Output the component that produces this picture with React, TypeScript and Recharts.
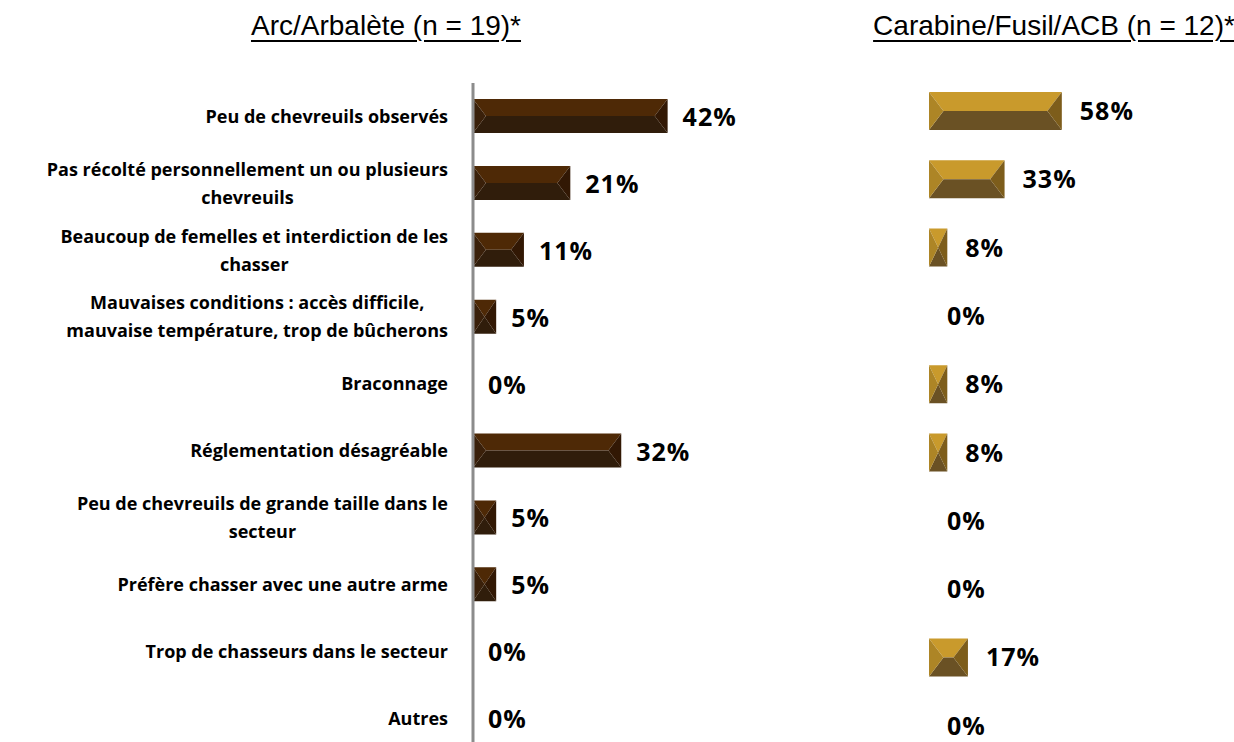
import React from 'react'
import { BarChart, Bar, XAxis, YAxis, LabelList } from 'recharts'

// catégories (\n = retour à la ligne)
const categories = [
  'Peu de chevreuils observés',
  'Pas récolté personnellement un ou plusieurs\nchevreuils',
  'Beaucoup de femelles et interdiction de les\nchasser',
  'Mauvaises conditions : accès difficile,\nmauvaise température, trop de bûcherons',
  'Braconnage',
  'Réglementation désagréable',
  'Peu de chevreuils de grande taille dans le\nsecteur',
  'Préfère chasser avec une autre arme',
  'Trop de chasseurs dans le secteur',
  'Autres',
]
const arcValues = [42, 21, 11, 5, 0, 32, 5, 5, 0, 0]
const carabineValues = [58, 33, 8, 0, 8, 8, 0, 0, 17, 0]

const arcTitle = 'Arc/Arbalète (n = 19)*'
const carabineTitle = 'Carabine/Fusil/ACB (n = 12)*'

const data = categories.map((label, i) => ({
  label,
  arc: arcValues[i],
  carabine: carabineValues[i],
}))

const LABEL_FONT = "'Open Sans', 'Noto Sans', sans-serif"
const LABEL_SIZE = 18
const VALUE_FONT = "'Open Sans', 'Noto Sans', sans-serif"

let ctx: CanvasRenderingContext2D | null = null
function measure(text: string) {
  if (!ctx) ctx = document.createElement('canvas').getContext('2d')
  if (!ctx) return text.length * 10
  ctx.font = `bold ${LABEL_SIZE}px ${LABEL_FONT}`
  return ctx.measureText(text).width
}

function CategoryTick(props: any) {
  const { y, payload } = props
  const lines: string[] = String(payload.value).split('\n')
  const right = 448
  const maxW = Math.max(...lines.map(measure))
  const cx = right - maxW / 2
  const lh = 28
  const y0 = y - ((lines.length - 1) * lh) / 2
  return (
    <text
      textAnchor="middle"
      fontFamily={LABEL_FONT}
      fontWeight="bold"
      fontSize={LABEL_SIZE}
      fill="#000"
    >
      {lines.map((l, i) => (
        <tspan key={i} x={cx} y={y0 + i * lh} dy="0.35em">
          {l}
        </tspan>
      ))}
    </text>
  )
}

type Bevel = { top: string; bottom: string; left: string; right: string }

const arcColors: Bevel = { top: '#4e2906', bottom: '#301d0b', left: '#3a200a', right: '#321804' }
const carabineColors: Bevel = { top: '#c99a2c', bottom: '#6a5124', left: '#ad8526', right: '#7d5d1b' }

function makeBevelBar(c: Bevel) {
  return (props: any) => {
    const { x, y, width: w, height: h } = props
    if (!w || w <= 0) return <g />
    const b = Math.min(h * 0.38, w / 2)
    const m = y + h / 2
    const pts = (arr: number[][]) => arr.map((p) => p.join(',')).join(' ')
    return (
      <g>
        <polygon points={pts([[x, y], [x + w, y], [x + w - b, m], [x + b, m]])} fill={c.top} />
        <polygon points={pts([[x, y + h], [x + w, y + h], [x + w - b, m], [x + b, m]])} fill={c.bottom} />
        <polygon points={pts([[x, y], [x + b, m], [x, y + h]])} fill={c.left} />
        <polygon points={pts([[x + w, y], [x + w - b, m], [x + w, y + h]])} fill={c.right} />
      </g>
    )
  }
}

const valueLabel = (offset: number, shiftY: number) => (props: any) => {
  const { x, y, width, height, value } = props
  return (
    <text
      x={x + width + offset}
      y={y + height / 2 + shiftY}
      dy="0.36em"
      fontFamily={VALUE_FONT}
      fontWeight="bold"
      fontSize={25}
      letterSpacing={1}
      fill="#000"
    >
      {value}%
    </text>
  )
}

const titleStyle: React.CSSProperties = {
  position: 'absolute',
  top: 10,
  fontFamily: "'Liberation Sans Narrow', 'Arial Narrow', 'Liberation Sans', sans-serif",
  fontSize: 28,
  color: '#000',
  textDecoration: 'underline',
  textDecorationThickness: 2,
  textUnderlineOffset: 5,
  whiteSpace: 'nowrap',
  transform: 'translateX(-50%)',
}

export default function App() {
  return (
    <div
      style={{
        position: 'absolute',
        left: 0,
        top: 0,
        width: 1234,
        height: 742,
        overflow: 'hidden',
        background: '#fff',
      }}
    >
      <div style={{ ...titleStyle, left: 386 }}>{arcTitle}</div>
      <div style={{ ...titleStyle, left: 1054 }}>{carabineTitle}</div>

      {/* Arc / Arbalète */}
      <div style={{ position: 'absolute', left: 0, top: 0 }}>
        <BarChart
          width={880}
          height={752}
          data={data}
          layout="vertical"
          margin={{ top: 83, right: 129, bottom: 0, left: 0 }}
        >
          <XAxis type="number" domain={[0, 60]} hide />
          <YAxis
            type="category"
            dataKey="label"
            width={473}
            axisLine={{ stroke: '#8c8c8c', strokeWidth: 3 }}
            tickLine={false}
            tick={<CategoryTick />}
            interval={0}
          />
          <Bar
            dataKey="arc"
            barSize={34}
            isAnimationActive={false}
            shape={makeBevelBar(arcColors)}
          >
            <LabelList dataKey="arc" content={valueLabel(15, 1)} />
          </Bar>
        </BarChart>
      </div>

      {/* Carabine / Fusil / ACB */}
      <div style={{ position: 'absolute', left: 880, top: 0 }}>
        <BarChart
          width={354}
          height={760}
          data={data}
          layout="vertical"
          margin={{ top: 77, right: 76, bottom: 0, left: 49 }}
        >
          <XAxis type="number" domain={[0, 100]} hide />
          <YAxis type="category" dataKey="label" hide />
          <Bar
            dataKey="carabine"
            barSize={38}
            isAnimationActive={false}
            shape={makeBevelBar(carabineColors)}
          >
            <LabelList dataKey="carabine" content={valueLabel(18, 0)} />
          </Bar>
        </BarChart>
      </div>
    </div>
  )
}
